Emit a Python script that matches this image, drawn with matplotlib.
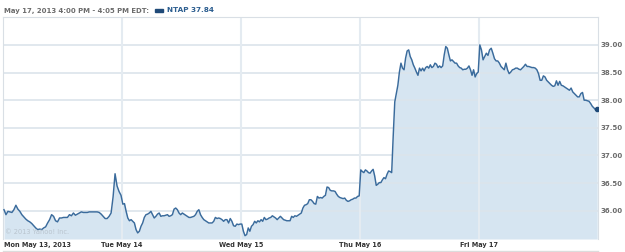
import matplotlib
matplotlib.use("Agg")
import matplotlib.pyplot as plt
import matplotlib.transforms as mtransforms
import numpy as np

# ---- data (NTAP, 5 trading days, intraday) ----
day_labels = ["Mon May 13, 2013", "Tue May 14", "Wed May 15", "Thu May 16", "Fri May 17"]

mon = [36.02, 35.93, 35.99, 35.98, 35.97, 36.02, 36.10, 36.03, 35.99, 35.93, 35.89, 35.85,
       35.82, 35.80, 35.77, 35.73, 35.69, 35.66, 35.67, 35.66, 35.69, 35.71, 35.78, 35.84,
       35.93, 35.90, 35.82, 35.80, 35.87, 35.87, 35.88, 35.88, 35.88, 35.93, 35.91, 35.96,
       35.92, 35.94, 35.96, 35.98, 35.97, 35.97, 35.97, 35.98, 35.98, 35.98, 35.98, 35.98,
       35.97, 35.94, 35.90, 35.86, 35.86, 35.90, 35.96, 36.25, 36.67, 36.45, 36.35, 36.28]
tue = [36.12, 36.13, 35.99, 35.87, 35.82, 35.84, 35.81, 35.78, 35.66, 35.60, 35.63, 35.72,
       35.78, 35.88, 35.93, 35.94, 35.96, 35.99, 35.93, 35.87, 35.90, 35.94, 35.96, 35.90,
       35.91, 35.91, 35.92, 35.93, 35.90, 35.91, 35.93, 36.03, 36.05, 36.02, 35.96, 35.93,
       35.96, 35.94, 35.92, 35.90, 35.88, 35.88, 35.89, 35.90, 35.93, 35.99, 36.02, 35.93,
       35.88, 35.84, 35.82, 35.80, 35.78, 35.78, 35.78, 35.81, 35.88, 35.86, 35.87, 35.86,
       35.84, 35.81, 35.84, 35.84, 35.78, 35.86, 35.81, 35.73, 35.72, 35.76, 35.75, 35.76]
wed = [35.76, 35.63, 35.55, 35.57, 35.69, 35.63, 35.72, 35.75, 35.81, 35.78, 35.82, 35.80,
       35.84, 35.81, 35.88, 35.84, 35.85, 35.87, 35.88, 35.91, 35.89, 35.87, 35.84, 35.87,
       35.90, 35.87, 35.84, 35.83, 35.82, 35.82, 35.82, 35.90, 35.88, 35.91, 35.90, 35.92,
       35.94, 35.96, 36.05, 36.10, 36.11, 36.13, 36.20, 36.20, 36.17, 36.13, 36.12, 36.26,
       36.23, 36.24, 36.23, 36.26, 36.28, 36.43, 36.42, 36.37, 36.36, 36.36, 36.35, 36.30,
       36.26, 36.24, 36.23, 36.22, 36.23, 36.19, 36.17, 36.18, 36.20, 36.21, 36.23, 36.23,
       36.26, 36.27]
thu = [36.74, 36.71, 36.69, 36.74, 36.72, 36.69, 36.68, 36.72, 36.75, 36.63, 36.46, 36.48,
       36.51, 36.51, 36.56, 36.60, 36.58, 36.66, 36.72, 36.71, 36.69, 37.36, 37.97, 38.12,
       38.27, 38.51, 38.67, 38.58, 38.55, 38.76, 38.89, 38.91, 38.79, 38.73, 38.64, 38.58,
       38.51, 38.45, 38.58, 38.53, 38.58, 38.53, 38.59, 38.61, 38.58, 38.64, 38.59, 38.61,
       38.67, 38.65, 38.59, 38.62, 38.59, 38.62, 38.82, 38.97, 38.94, 38.82, 38.71, 38.73,
       38.70, 38.67, 38.67, 38.62, 38.59, 38.58, 38.55, 38.56, 38.56, 38.58, 38.62, 38.55,
       38.45, 38.55, 38.42, 38.48, 38.51]
fri = [39.00, 38.91, 38.73, 38.79, 38.85, 38.81, 38.91, 38.94, 38.85, 38.75, 38.71, 38.71,
       38.67, 38.61, 38.58, 38.55, 38.67, 38.55, 38.48, 38.51, 38.55, 38.56, 38.58, 38.58,
       38.56, 38.55, 38.58, 38.61, 38.65, 38.61, 38.61, 38.60, 38.59, 38.59, 38.58, 38.55,
       38.48, 38.36, 38.36, 38.44, 38.42, 38.36, 38.33, 38.30, 38.27, 38.25, 38.26, 38.35,
       38.27, 38.34, 38.27, 38.26, 38.24, 38.22, 38.20, 38.18, 38.22, 38.15, 38.12, 38.09,
       38.06, 38.06, 38.12, 38.14, 38.00, 38.00, 37.99, 37.98, 37.94, 37.89, 37.86, 37.83,
       37.84]
days = [mon, tue, wed, thu, fri]
y_ticks = [36.0, 36.5, 37.0, 37.5, 38.0, 38.5, 39.0]
last_price = "37.84"
header = "May 17, 2013 4:00 PM - 4:05 PM EDT:"
symbol = "NTAP"

# ---- positions: each day spans one unit on x ----
xs, ys = [], []
for i, d in enumerate(days):
    n = len(d)
    xs.extend(i + (np.arange(n) + 0.5) / n)
    ys.extend(d)
xs = np.array(xs)
ys = np.array(ys)

W, H = 625, 252
fig = plt.figure(figsize=(W / 100, H / 100), dpi=100)
fig.patch.set_facecolor("white")
ax = fig.add_axes([3 / W, (H - 239) / H, 595 / W, (239 - 16.7) / H])
ymin, ymax = 35.49, 39.51
ax.set_xlim(0, 5)
ax.set_ylim(ymin, ymax)

line_c = "#3a6b9c"
fill_c = "#d6e5f1"
grid_c = "#dce4eb"

ax.fill_between(xs, ys, ymin, color=fill_c, lw=0, zorder=1)
for v in y_ticks:
    ax.axhline(v, color=grid_c, lw=1.2, zorder=2)
for d in range(1, 5):
    ax.axvline(d, color="#e4ebf1", lw=1.5, zorder=2)
ax.plot(xs, ys, color=line_c, lw=1.05, zorder=3)
ax.plot(xs[-1:], ys[-1:], "o", color="#1f4a78", ms=3, zorder=4)

for s in ax.spines.values():
    s.set_color("#d9dfe5")
    s.set_linewidth(0.8)
ax.spines["bottom"].set_visible(False)

ax.set_xticks([])
ax.yaxis.tick_right()
ax.set_yticks(y_ticks)
ax.set_yticklabels([f"{v:.2f}" for v in y_ticks])
ax.tick_params(axis="y", length=0, pad=2, labelsize=5.0, labelcolor="#6b6b6b")
for t in ax.get_yticklabels():
    t.set_fontweight("bold")

trans = mtransforms.blended_transform_factory(ax.transData, fig.transFigure)
ylab = 1 - 245.5 / H
for i, lab in enumerate(day_labels):
    if i == 0:
        ax.text(0.008, ylab, lab, transform=trans, ha="left", va="center",
                fontsize=4.7, fontweight="bold", color="#333333")
    else:
        ax.text(i, ylab, lab, transform=trans, ha="center", va="center",
                fontsize=4.7, fontweight="bold", color="#333333")

# bottom rule
fig.add_artist(plt.Line2D([3 / W, 598 / W], [1 - 251 / H, 1 - 251 / H],
                          color="#dcdcdc", lw=1.0, transform=fig.transFigure))

# watermark
fig.text(5 / W, 1 - 232 / H, "\u00a9 2013 Yahoo! Inc.", fontsize=4.8,
         color="#b9c4ce", ha="left", va="center")

# header
fig.text(4 / W, 1 - 10.5 / H, header, fontsize=4.95, fontweight="bold",
         color="#6b6b6b", ha="left", va="center")
fig.patches.append(plt.Rectangle((155 / W, 1 - 12 / H), 8 / W, 3 / H,
                                 transform=fig.transFigure, color="#1f4a78"))
fig.text(167 / W, 1 - 10.5 / H, f"{symbol} {last_price}", fontsize=5.2,
         fontweight="bold", color="#2b5d8f", ha="left", va="center")

fig.savefig("out.png", dpi=100)
